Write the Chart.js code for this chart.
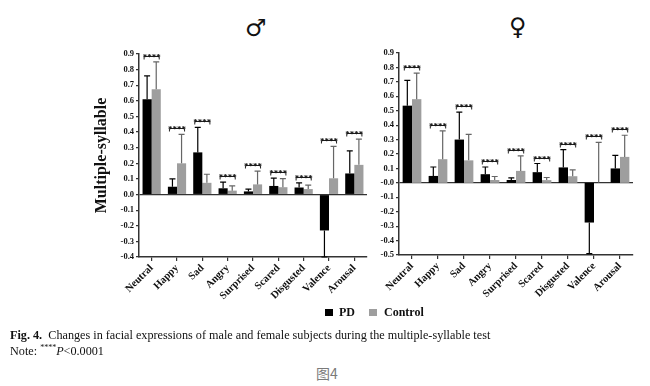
<!DOCTYPE html>
<html>
<head>
<meta charset="utf-8">
<script src="https://cdn.jsdelivr.net/npm/chart.js@4"></script>
<style>
  body { margin: 0; background: #fff; width: 650px; height: 386px; position: relative; overflow: hidden; font-family: 'Liberation Serif', 'DejaVu Serif', serif; color: #111; }
  canvas { position: absolute; }
  .sex { position: absolute; font-family: 'DejaVu Sans', sans-serif; font-weight: bold; font-size: 24px; line-height: 1; }
  .lg { position: absolute; top: 304px; font-weight: bold; font-size: 12px; line-height: 16px; }
  .sw { position: absolute; top: 309px; width: 8px; height: 7px; }
  .cap { position: absolute; left: 10px; font-size: 12.2px; white-space: nowrap; }
  #fig { position: absolute; left: 316px; top: 363px; font-family: 'Noto Sans CJK SC', sans-serif; font-size: 14px; color: #7a7a7a; }
</style>
</head>
<body>
<div class="sex" style="left:245px; top:16px;">♂</div>
<div class="sex" style="left:509px; top:15px;">♀</div>
<canvas id="male" width="380" height="320" style="left:0; top:0;"></canvas>
<canvas id="female" width="290" height="320" style="left:360px; top:0;"></canvas>
<div class="sw" style="left:325px; background:#000"></div>
<div class="lg" style="left:339px;">PD</div>
<div class="sw" style="left:369px; background:#9e9e9e"></div>
<div class="lg" style="left:384px;">Control</div>
<div class="cap" style="top:328px;"><b>Fig. 4.</b>&nbsp; Changes in facial expressions of male and female subjects during the multiple-syllable test</div>
<div class="cap" style="top:343px;">Note: <sup style="font-size:8px">****</sup><i>P</i>&lt;0.0001</div>
<div id="fig">图4</div>
<script>
const categories = ['Neutral', 'Happy', 'Sad', 'Angry', 'Surprised', 'Scared', 'Disgusted', 'Valence', 'Arousal'];

// male (left panel): means and one-sided SD whiskers
const malePD = [0.61, 0.05, 0.27, 0.04, 0.02, 0.055, 0.045, -0.23, 0.135];
const malePDErr = [0.15, 0.05, 0.16, 0.04, 0.015, 0.05, 0.03, 0.17, 0.145];
const maleCtrl = [0.675, 0.20, 0.075, 0.025, 0.065, 0.047, 0.035, 0.104, 0.19];
const maleCtrlErr = [0.175, 0.185, 0.055, 0.03, 0.085, 0.055, 0.025, 0.205, 0.165];

// female (right panel)
const femalePD = [0.535, 0.048, 0.30, 0.06, 0.02, 0.074, 0.107, -0.275, 0.10];
const femalePDErr = [0.175, 0.062, 0.19, 0.05, 0.015, 0.06, 0.123, 0.215, 0.09];
const femaleCtrl = [0.58, 0.164, 0.156, 0.02, 0.083, 0.019, 0.046, 0.0, 0.18];
const femaleCtrlErr = [0.18, 0.196, 0.18, 0.024, 0.104, 0.018, 0.044, 0.28, 0.15];

const sigLabel = '****';
const serif = "'Liberation Serif', 'DejaVu Serif', serif";

// whiskers go away from zero only
const errorBars = {
  id: 'errorBars',
  afterDatasetsDraw(chart) {
    const { ctx } = chart;
    const y = chart.scales.y;
    chart.data.datasets.forEach((ds, di) => {
      chart.getDatasetMeta(di).data.forEach((bar, i) => {
        const v = ds.data[i], e = ds.errors[i];
        if (!e) return;
        const end = y.getPixelForValue(v < 0 ? v - e : v + e);
        ctx.save();
        ctx.strokeStyle = ds.errColor;
        ctx.lineWidth = 1.2;
        ctx.beginPath();
        ctx.moveTo(bar.x, bar.y);
        ctx.lineTo(bar.x, end);
        ctx.moveTo(bar.x - 3, end);
        ctx.lineTo(bar.x + 3, end);
        ctx.stroke();
        ctx.restore();
      });
    });
  }
};

// significance bracket above each pair
const sigMarks = {
  id: 'sigMarks',
  afterDatasetsDraw(chart) {
    const { ctx } = chart;
    const y = chart.scales.y;
    const a = chart.getDatasetMeta(0).data, b = chart.getDatasetMeta(1).data;
    const d0 = chart.data.datasets[0], d1 = chart.data.datasets[1];
    const tip = (ds, i) => ds.data[i] >= 0 ? ds.data[i] + ds.errors[i] : 0;
    ctx.save();
    ctx.strokeStyle = '#222';
    ctx.fillStyle = '#111';
    ctx.lineWidth = 1;
    ctx.font = 'bold 9px ' + serif;
    ctx.textAlign = 'center';
    ctx.textBaseline = 'alphabetic';
    a.forEach((bar, i) => {
      const top = Math.max(0, tip(d0, i), tip(d1, i));
      const yb = Math.round(y.getPixelForValue(top) - 6) + 0.5;
      const x1 = bar.x - 3, x2 = b[i].x + 3;
      ctx.beginPath();
      ctx.moveTo(x1, yb + 3);
      ctx.lineTo(x1, yb);
      ctx.lineTo(x2, yb);
      ctx.lineTo(x2, yb + 3);
      ctx.stroke();
      ctx.fillText(sigLabel, (x1 + x2) / 2, yb + 3);
    });
    ctx.restore();
  }
};

function makeChart(id, pd, pdErr, ctrl, ctrlErr, yMin, pad, yWidth, xHeight, showTitle) {
  new Chart(document.getElementById(id), {
    type: 'bar',
    data: {
      labels: categories,
      datasets: [
        { label: 'PD', data: pd, errors: pdErr, errColor: '#000', backgroundColor: '#000' },
        { label: 'Control', data: ctrl, errors: ctrlErr, errColor: '#666', backgroundColor: '#9e9e9e' }
      ]
    },
    options: {
      responsive: false,
      animation: false,
      categoryPercentage: 0.72,
      barPercentage: 1.0,
      layout: { padding: pad },
      plugins: { legend: { display: false }, tooltip: { enabled: false } },
      scales: {
        x: {
          ticks: { minRotation: 45, maxRotation: 45, color: '#111', padding: 1, font: { family: serif, weight: 'bold', size: 10.5 } },
          grid: { drawOnChartArea: false, offset: false, tickLength: 4, tickColor: '#333', lineWidth: 1.2 },
          border: { color: '#333', width: 1.5 },
          afterFit(s) { s.height = xHeight; }
        },
        y: {
          min: yMin,
          max: 0.9,
          ticks: { stepSize: 0.1, color: '#111', padding: 2, font: { family: serif, weight: 'bold', size: 8.5 }, callback: v => v.toFixed(1) },
          grid: {
            color: c => Math.abs(c.tick.value) < 1e-9 ? '#333' : 'rgba(0,0,0,0)',
            tickColor: '#333', tickLength: 3, lineWidth: 1.2
          },
          border: { color: '#333', width: 1.5 },
          title: { display: showTitle, text: 'Multiple-syllable', color: '#111', font: { family: serif, weight: 'bold', size: 16 } },
          afterFit(s) { s.width = yWidth; }
        }
      }
    },
    plugins: [errorBars, sigMarks]
  });
}

makeChart('male', malePD, malePDErr, maleCtrl, maleCtrlErr, -0.4, { left: 88, top: 54, right: 13, bottom: 0 }, 51, 63, true);
makeChart('female', femalePD, femalePDErr, femaleCtrl, femaleCtrlErr, -0.5, { left: 0, top: 53, right: 17, bottom: 0 }, 39, 65, false);
</script>
</body>
</html>
